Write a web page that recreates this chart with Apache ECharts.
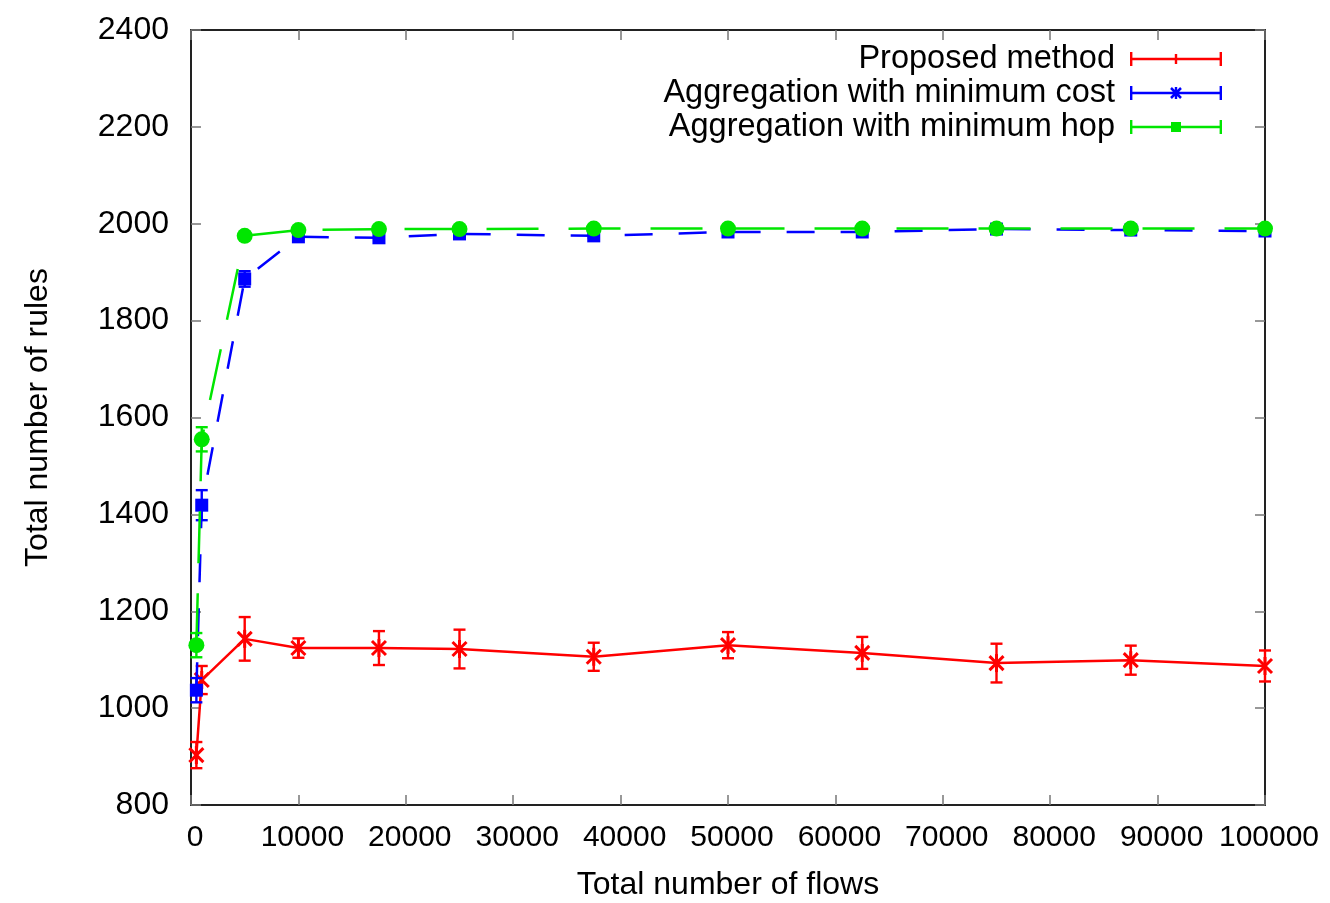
<!DOCTYPE html>
<html>
<head>
<meta charset="utf-8">
<script src="https://cdn.jsdelivr.net/npm/echarts@6/dist/echarts.min.js"></script>
<style>
html,body{margin:0;padding:0;background:#fff;}
#chart{width:1330px;height:903px;}
</style>
</head>
<body>
<div id="chart"></div>
<script>
// ---- data ----
const flows = [500, 1000, 5000, 10000, 17500, 25000, 37500, 50000, 62500, 75000, 87500, 100000];

const proposedValues = [903, 1058, 1143, 1124, 1124, 1122, 1106, 1130, 1114, 1093, 1099, 1087];
const proposedErrors = [27, 29, 45, 20, 35, 40, 29, 27, 33, 40, 30, 32];

const minCostValues = [1037, 1419, 1886, 1973, 1971, 1979, 1975, 1983, 1983, 1989, 1987, 1985];
const minCostErrors = [25, 31, 16, 5, 5, 4, 4, 4, 4, 3, 3, 3];

const minHopValues = [1130, 1555, 1975, 1987, 1989, 1989, 1990, 1990, 1990, 1990, 1990, 1990];
const minHopErrors = [25, 25, 5, 4, 3, 3, 3, 3, 3, 3, 3, 3];

const seriesNames = ['Proposed method', 'Aggregation with minimum cost', 'Aggregation with minimum hop'];
const yTicks = [800, 2400, 200];
const xTicks = [0, 100000, 10000];

// ---- styling ----
const FONT = '"Liberation Sans", Arial, Helvetica, sans-serif';
const RED = '#ff0000', BLUE = '#0000ff', GREEN = '#00e600';

const legendBase = 'M0,5.8 L92,5.8 L92,8.2 L0,8.2 Z M0,0 L2.4,0 L2.4,14 L0,14 Z M89.6,0 L92,0 L92,14 L89.6,14 Z ';
const iconRed = 'path://' + legendBase + 'M44.8,2 L47.2,2 L47.2,12 L44.8,12 Z';
const iconBlue = 'path://' + legendBase +
  'M44.8,1 L47.2,1 L47.2,13 L44.8,13 Z ' +
  'M41.88,1.12 L51.88,11.12 L50.12,12.88 L40.12,2.88 Z ' +
  'M51.88,2.88 L41.88,12.88 L40.12,11.12 L50.12,1.12 Z';
const iconGreen = 'path://' + legendBase + 'M41,2 L51,2 L51,12 L41,12 Z';

function errorSeries(name, color, vals, errs, star, z) {
  return {
    type: 'custom',
    name: name + ' (error)',
    silent: true,
    z: z,
    xAxisIndex: 0,
    yAxisIndex: 0,
    data: flows.map((x, i) => [x, vals[i], errs[i]]),
    encode: { x: 0, y: 1 },
    renderItem: function (params, api) {
      const x = api.value(0), y = api.value(1), e = api.value(2);
      const top = api.coord([x, y + e]);
      const bot = api.coord([x, y - e]);
      const cw = 6;
      const st = { stroke: color, lineWidth: 2.4 };
      const children = [
        { type: 'line', shape: { x1: top[0], y1: top[1], x2: bot[0], y2: bot[1] }, style: st },
        { type: 'line', shape: { x1: top[0] - cw, y1: top[1], x2: top[0] + cw, y2: top[1] }, style: st },
        { type: 'line', shape: { x1: bot[0] - cw, y1: bot[1], x2: bot[0] + cw, y2: bot[1] }, style: st }
      ];
      if (star) {
        const c = api.coord([x, y]);
        const r = 7;
        const s2 = { stroke: color, lineWidth: 3 };
        children.push(
          { type: 'line', shape: { x1: c[0] - r, y1: c[1] - r, x2: c[0] + r, y2: c[1] + r }, style: s2 },
          { type: 'line', shape: { x1: c[0] - r, y1: c[1] + r, x2: c[0] + r, y2: c[1] - r }, style: s2 },
          { type: 'line', shape: { x1: c[0], y1: c[1] - r - 2, x2: c[0], y2: c[1] + r + 2 }, style: s2 }
        );
      }
      return { type: 'group', children: children };
    }
  };
}

const chart = echarts.init(document.getElementById('chart'), null, { renderer: 'canvas' });

const axisLineStyle = { color: '#222', width: 2 };
const tickStyle = { color: '#777', width: 1.5 };
const plain = v => String(v);

const option = {
  backgroundColor: '#ffffff',
  animation: false,
  textStyle: { fontFamily: FONT },
  grid: { left: 191, right: 65, top: 30, bottom: 98, containLabel: false, outerBoundsMode: 'none' },
  legend: {
    orient: 'vertical',
    right: 103,
    top: 37,
    align: 'right',
    itemWidth: 92,
    itemHeight: 14,
    itemGap: 0,
    selectedMode: false,
    textStyle: { fontFamily: FONT, fontSize: 32.5, color: '#000', lineHeight: 34, padding: [0, 10, 0, 0] },
    data: [
      { name: seriesNames[0], icon: iconRed, itemStyle: { color: RED, borderWidth: 0 } },
      { name: seriesNames[1], icon: iconBlue, itemStyle: { color: BLUE, borderWidth: 0 } },
      { name: seriesNames[2], icon: iconGreen, itemStyle: { color: GREEN, borderWidth: 0 } }
    ]
  },
  xAxis: [
    {
      type: 'value',
      min: xTicks[0], max: xTicks[1], interval: xTicks[2],
      name: 'Total number of flows',
      nameLocation: 'middle',
      nameGap: 64,
      nameTextStyle: { fontFamily: FONT, fontSize: 32, color: '#000' },
      axisLine: { show: true, onZero: false, lineStyle: axisLineStyle },
      axisTick: { show: true, inside: true, length: 10, lineStyle: tickStyle },
      axisLabel: { fontFamily: FONT, fontSize: 30, color: '#000', margin: 18, padding: [0, 0, 0, 8], formatter: plain },
      splitLine: { show: false }
    },
    {
      type: 'value',
      position: 'top',
      min: xTicks[0], max: xTicks[1], interval: xTicks[2],
      axisLine: { show: true, onZero: false, lineStyle: axisLineStyle },
      axisTick: { show: true, inside: true, length: 10, lineStyle: tickStyle },
      axisLabel: { show: false },
      splitLine: { show: false }
    }
  ],
  yAxis: [
    {
      type: 'value',
      min: yTicks[0], max: yTicks[1], interval: yTicks[2],
      name: 'Total number of rules',
      nameLocation: 'middle',
      nameGap: 137,
      nameTextStyle: { fontFamily: FONT, fontSize: 32, color: '#000' },
      axisLine: { show: true, onZero: false, lineStyle: axisLineStyle },
      axisTick: { show: true, inside: true, length: 10, lineStyle: tickStyle },
      axisLabel: { fontFamily: FONT, fontSize: 32, color: '#000', margin: 22, formatter: plain },
      splitLine: { show: false }
    },
    {
      type: 'value',
      position: 'right',
      min: yTicks[0], max: yTicks[1], interval: yTicks[2],
      axisLine: { show: true, onZero: false, lineStyle: axisLineStyle },
      axisTick: { show: true, inside: true, length: 10, lineStyle: tickStyle },
      axisLabel: { show: false },
      splitLine: { show: false }
    }
  ],
  series: [
    {
      type: 'line',
      name: seriesNames[0],
      xAxisIndex: 0, yAxisIndex: 0,
      data: flows.map((x, i) => [x, proposedValues[i]]),
      symbol: 'none',
      color: RED,
      lineStyle: { color: RED, width: 2.5, type: 'solid' },
      z: 2
    },
    errorSeries(seriesNames[0], RED, proposedValues, proposedErrors, true, 2),
    {
      type: 'line',
      name: seriesNames[1],
      xAxisIndex: 0, yAxisIndex: 0,
      data: flows.map((x, i) => [x, minCostValues[i]]),
      symbol: 'rect',
      symbolSize: 13,
      color: BLUE,
      itemStyle: { color: BLUE },
      lineStyle: { color: BLUE, width: 2.5, type: [28, 26] },
      z: 3
    },
    errorSeries(seriesNames[1], BLUE, minCostValues, minCostErrors, false, 3),
    {
      type: 'line',
      name: seriesNames[2],
      xAxisIndex: 0, yAxisIndex: 0,
      data: flows.map((x, i) => [x, minHopValues[i]]),
      symbol: 'circle',
      symbolSize: 16,
      color: GREEN,
      itemStyle: { color: GREEN },
      lineStyle: { color: GREEN, width: 2.5, type: [52, 30] },
      z: 4
    },
    errorSeries(seriesNames[2], GREEN, minHopValues, minHopErrors, false, 4)
  ]
};

chart.setOption(option);
</script>
</body>
</html>
